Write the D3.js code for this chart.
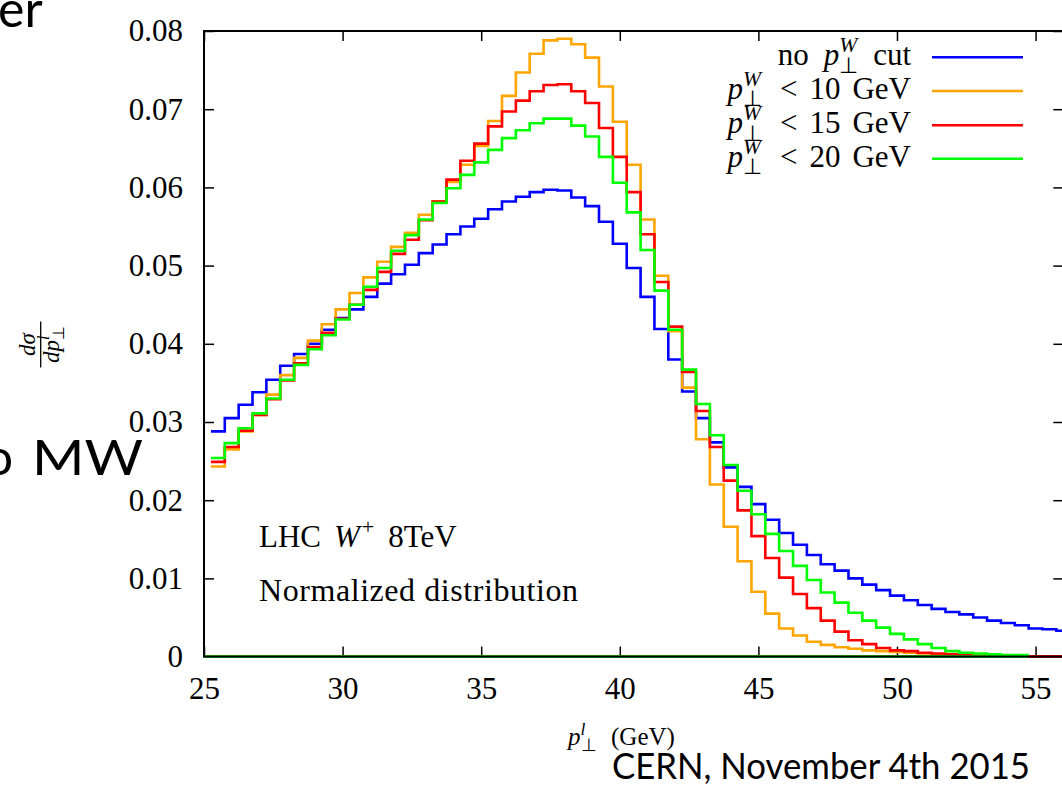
<!DOCTYPE html>
<html>
<head>
<meta charset="utf-8">
<script src="https://cdn.jsdelivr.net/npm/d3@7"></script>
<style>
  body { margin: 0; background: #fff; }
  .tick text { font-family: "Liberation Serif", serif; font-size: 31px; fill: #000; }
  .tick line { stroke: #000; stroke-width: 1.5; }
  .serif { font-family: "Liberation Serif", serif; fill: #000; }
  .slide { font-family: Lato, "Open Sans", sans-serif; fill: #000; }
</style>
</head>
<body>
<div class="chart"></div>
<script>
// bin centres (GeV), 0.5 GeV wide bins
var binCenters = [25.5,26,26.5,27,27.5,28,28.5,29,29.5,30,30.5,31,31.5,32,32.5,33,33.5,34,34.5,35,
  35.5,36,36.5,37,37.5,38,38.5,39,39.5,40,40.5,41,41.5,42,42.5,43,43.5,44,44.5,45,
  45.5,46,46.5,47,47.5,48,48.5,49,49.5,50,50.5,51,51.5,52,52.5,53,53.5,54,54.5,55,55.5,56];

var noCut = [0.0288,0.0305,0.0322,0.0338,0.0354,0.0372,0.0387,0.0400,0.0418,0.0433,
  0.0444,0.0460,0.0477,0.0489,0.0501,0.0516,0.0527,0.0540,0.0550,0.0560,
  0.0572,0.0582,0.0588,0.0594,0.0597,0.0596,0.0587,0.0576,0.0556,0.0528,
  0.0497,0.0460,0.0419,0.0380,0.0339,0.0305,0.0274,0.0242,0.0217,0.0195,
  0.0175,0.0158,0.0143,0.0130,0.0118,0.0110,0.0100,0.0092,0.0085,0.0078,
  0.0072,0.0066,0.0061,0.0057,0.0054,0.0050,0.0046,0.0043,0.0040,0.0036,
  0.0035,0.0033];

var cut10 = [0.0243,0.0265,0.0288,0.0309,0.0335,0.0360,0.0382,0.0404,0.0425,0.0444,
  0.0465,0.0485,0.0505,0.0524,0.0542,0.0565,0.0582,0.0607,0.0629,0.0653,
  0.0685,0.0717,0.0747,0.0771,0.0788,0.0790,0.0783,0.0766,0.0729,0.0684,
  0.0629,0.0559,0.0487,0.0416,0.0344,0.0278,0.0220,0.0166,0.0122,0.0083,
  0.0055,0.0036,0.0027,0.0019,0.0015,0.0012,0.0010,0.0008,0.0007,0.0006,
  0.0005,0.0004,0.0003,0.0002,0.0002,0.0001,0.0001,0.0000];

var cut15 = [0.0249,0.0268,0.0289,0.0309,0.0329,0.0353,0.0375,0.0396,0.0414,0.0432,
  0.0450,0.0469,0.0492,0.0515,0.0533,0.0558,0.0582,0.0610,0.0634,0.0656,
  0.0678,0.0697,0.0711,0.0723,0.0731,0.0732,0.0723,0.0708,0.0676,0.0639,
  0.0594,0.0540,0.0479,0.0422,0.0364,0.0314,0.0268,0.0225,0.0187,0.0154,
  0.0126,0.0101,0.0080,0.0062,0.0046,0.0032,0.0021,0.0016,0.0011,0.0008,
  0.0007,0.0005,0.0004,0.0003,0.0002,0.0001,0.0001,0,0,0,
  0,0];

var cut20 = [0.0254,0.0273,0.0292,0.0311,0.0330,0.0354,0.0373,0.0393,0.0411,0.0431,
  0.0450,0.0473,0.0497,0.0519,0.0539,0.0559,0.0580,0.0599,0.0616,0.0632,
  0.0648,0.0663,0.0673,0.0682,0.0688,0.0688,0.0679,0.0665,0.0639,0.0606,
  0.0568,0.0520,0.0468,0.0418,0.0367,0.0323,0.0283,0.0245,0.0212,0.0182,
  0.0157,0.0135,0.0116,0.0098,0.0082,0.0069,0.0056,0.0046,0.0037,0.0029,
  0.0022,0.0016,0.0011,0.0007,0.0005,0.0004,0.0003,0.0002,0.0002];

var seriesNames = ["nocut", "10", "15", "20"];
var seriesColors = ["#0000ff", "#ffa500", "#ff0000", "#00ff00"];
var seriesValues = [noCut, cut10, cut15, cut20];
var xTicks = [25, 30, 35, 40, 45, 50, 55];
var yTicks = [0, 0.01, 0.02, 0.03, 0.04, 0.05, 0.06, 0.07, 0.08];

var W = 1062, H = 785;
var margin = {top: 31, left: 204},
    width = 859.3,
    height = 625.6;
var binHalf = 0.25;

var x = d3.scaleLinear().domain([25, 56]).range([0, width]);
var y = d3.scaleLinear().domain([0, 0.08]).range([height, 0]);

var svg = d3.select(".chart").append("svg")
    .attr("width", W).attr("height", H);

var g = svg.append("g")
    .attr("transform", "translate(" + margin.left + "," + margin.top + ")");

// axes, ticks inward on all four sides
var xAxis = d3.axisBottom(x).tickValues(xTicks).tickSize(-10).tickSizeOuter(0).tickPadding(20);
var yAxis = d3.axisLeft(y).tickValues(yTicks).tickSize(-10).tickSizeOuter(0).tickPadding(21)
    .tickFormat(function(d) { return d === 0 ? "0" : d3.format(".2f")(d); });
var xTop = d3.axisTop(x).tickValues(xTicks).tickSize(-10).tickSizeOuter(0).tickFormat("");
var yRight = d3.axisRight(y).tickValues(yTicks).tickSize(-10).tickSizeOuter(0).tickFormat("");

g.append("g").attr("class", "x axis").attr("transform", "translate(0," + height + ")").call(xAxis);
g.append("g").attr("class", "y axis").call(yAxis);
g.append("g").attr("transform", "translate(0,0)").call(xTop);
g.append("g").attr("transform", "translate(" + width + ",0)").call(yRight);
g.selectAll(".domain").remove();

// histogram steps
var stepLine = d3.line()
    .x(function(d) { return x(d[0]); })
    .y(function(d) { return y(d[1]); })
    .curve(d3.curveStepAfter);

seriesValues.forEach(function(vals, i) {
  var pts = vals.map(function(v, k) { return [binCenters[k] - binHalf, v]; });
  var lastEdge = binCenters[vals.length - 1] + binHalf;
  pts.push([lastEdge, vals[vals.length - 1]]);
  // zero line underneath
  g.append("line")
    .attr("x1", x(25)).attr("x2", x(lastEdge))
    .attr("y1", y(0)).attr("y2", y(0))
    .attr("stroke", seriesColors[i]).attr("stroke-width", 2.6);
  g.append("path")
    .attr("class", "line s" + seriesNames[i])
    .attr("d", stepLine(pts))
    .attr("fill", "none")
    .attr("stroke", seriesColors[i])
    .attr("stroke-width", 2.6);
});

// frame
g.append("rect")
  .attr("width", width).attr("height", height)
  .attr("fill", "none").attr("stroke", "#000").attr("stroke-width", 2);

// p_perp^sup helper
function perpP(t, sup, fs) {
  t.append("tspan").attr("font-style", "italic").text("p");
  var s = t.append("tspan").attr("font-style", "italic").attr("font-size", fs * 0.7)
      .attr("dy", -fs * 0.42).text(sup);
  var w = s.node().getComputedTextLength();
  var p = t.append("tspan").attr("font-size", fs * 0.7)
      .attr("dx", -w).attr("dy", fs * 0.66).text("\u22a5");
  var pw = p.node().getComputedTextLength();
  return {dy: -fs * 0.24, dx: Math.max(0, w - pw)};
}

// legend
var legendY = [57.3, 91, 125.3, 158.7];
var legendFs = 31;
seriesValues.forEach(function(vals, i) {
  var t = svg.append("text").attr("class", "serif").attr("font-size", legendFs)
    .attr("x", 911).attr("y", legendY[i] + 8).attr("text-anchor", "end");
  if (i === 0) {
    t.append("tspan").text("no");
    t.append("tspan").attr("dx", 15).text("");
    var r = perpP(t, "W", legendFs);
    t.select("tspan:nth-child(3)").attr("dx", 15);
    t.append("tspan").attr("dy", r.dy).attr("dx", r.dx + 15).text("cut");
  } else {
    var r2 = perpP(t, "W", legendFs);
    t.append("tspan").attr("dy", r2.dy).attr("dx", r2.dx + 18).text("<");
    t.append("tspan").attr("dx", 12).text(seriesNames[i]);
    t.append("tspan").attr("dx", 12).text("GeV");
  }
  svg.append("line")
    .attr("x1", 932).attr("x2", 1023)
    .attr("y1", legendY[i]).attr("y2", legendY[i])
    .attr("stroke", seriesColors[i]).attr("stroke-width", 2.6);
});

// annotations
var a1 = svg.append("text").attr("class", "serif").attr("font-size", 31)
  .attr("x", 259).attr("y", 547);
a1.append("tspan").text("LHC");
a1.append("tspan").attr("dx", 13).attr("font-style", "italic").text("W");
a1.append("tspan").attr("dx", 2).attr("font-size", 22).attr("dy", -13).text("+");
a1.append("tspan").attr("dx", 14).attr("dy", 13).text("8TeV");

svg.append("text").attr("class", "serif").attr("font-size", 32)
  .attr("x", 259).attr("y", 601).attr("textLength", 319).attr("lengthAdjust", "spacing")
  .text("Normalized distribution");

// x label
var xl = svg.append("text").attr("class", "serif").attr("font-size", 25)
  .attr("x", 568).attr("y", 745);
perpP(xl, "l", 25);
svg.append("text").attr("class", "serif").attr("font-size", 25)
  .attr("x", 611).attr("y", 745).text("(GeV)");

// y label as a fraction, rotated
var yl = svg.append("g").attr("transform", "translate(40.7,344.5) rotate(-90)");
var num = yl.append("text").attr("class", "serif").attr("font-size", 23)
  .attr("text-anchor", "middle").attr("y", -6);
num.append("tspan").attr("font-style", "italic").text("d\u03c3");
yl.append("line").attr("x1", -23).attr("x2", 23).attr("y1", 0).attr("y2", 0)
  .attr("stroke", "#000").attr("stroke-width", 1.3);
var den = yl.append("text").attr("class", "serif").attr("font-size", 23)
  .attr("text-anchor", "middle").attr("y", 18);
den.append("tspan").attr("font-style", "italic").text("d");
perpP(den, "l", 23);

// slide text around the figure
svg.append("text").attr("class", "slide").attr("font-size", 50)
  .attr("x", -2).attr("y", 27).text("er");
svg.append("text").attr("class", "slide").attr("font-size", 50)
  .attr("x", 13).attr("y", 475).attr("text-anchor", "end").text("to");
svg.append("text").attr("class", "slide").attr("font-size", 48)
  .attr("x", 32).attr("y", 475).attr("textLength", 111).attr("lengthAdjust", "spacingAndGlyphs")
  .text("MW");
svg.append("text").attr("class", "slide").attr("font-size", 36)
  .attr("x", 612).attr("y", 779).attr("textLength", 418).attr("lengthAdjust", "spacingAndGlyphs")
  .text("CERN, November 4th 2015");
</script>
</body>
</html>
